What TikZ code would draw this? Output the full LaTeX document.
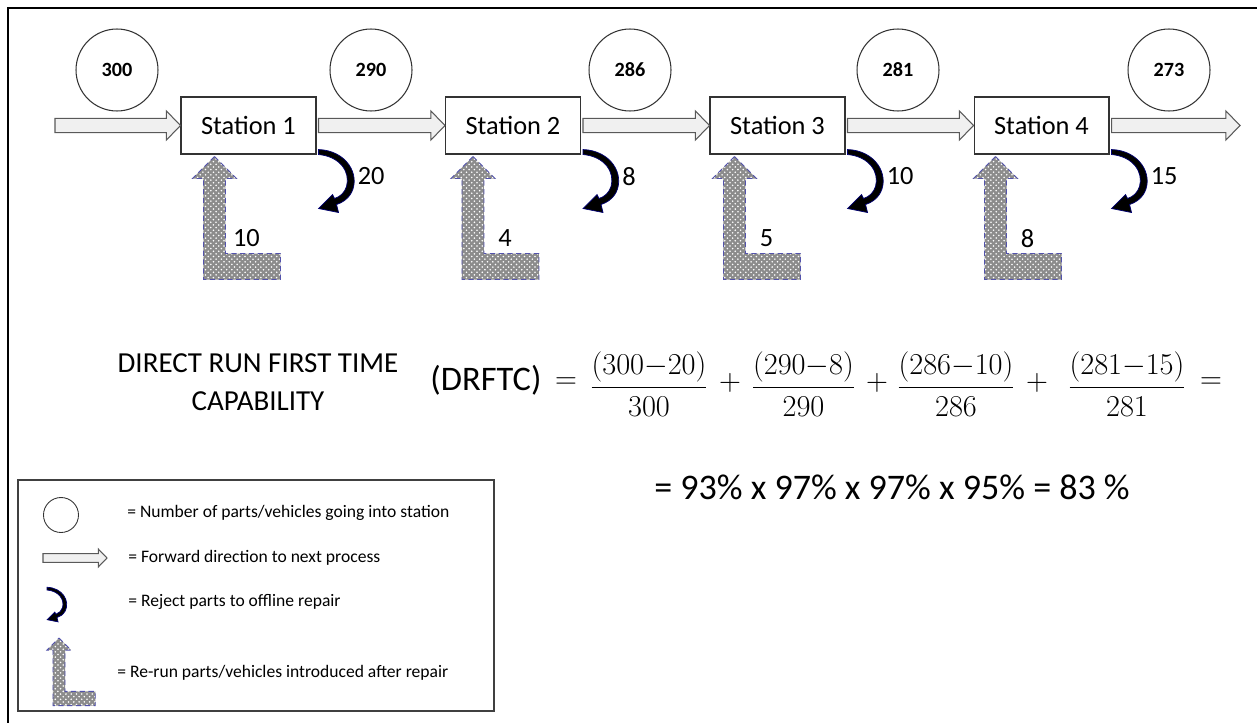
\documentclass[tikz,border=0pt]{standalone}
\usepackage{fontspec}
\setmainfont{Carlito}
\usetikzlibrary{calc}
\usetikzlibrary{patterns}

\tikzset{
	station/.style={draw=black!80, line width=.6pt, minimum width=2.7cm, minimum height=1.14cm, inner sep=0pt, font=\fontsize{15}{18}\selectfont},
	countcirc/.style={draw=black!80, line width=.6pt, circle, minimum size=1.64cm, inner sep=0pt, font=\fontsize{11.5}{14}\selectfont\bfseries},
	fwdarr/.style={draw=black!65, fill=black!6, line width=.6pt},
	rejarr/.style={fill=black, draw=blue!45!black, line width=.4pt},
	rerunarr/.style={preaction={fill=black!45}, pattern=crosshatch dots, pattern color=white, draw=blue!35!gray, densely dashed, line width=.5pt},
	qty/.style={font=\fontsize{15}{18}\selectfont, inner sep=0pt},
	legtxt/.style={font=\fontsize{10}{12}\selectfont, anchor=west, inner sep=0pt},
	reject/.pic={
		\path[rejarr] (2,-5) .. controls (30,-4) and (44,20) .. (35,38) .. controls (31,45) and (26,48) .. (20,50)
			-- (22,58) -- (2,54) -- (16,40) -- (18,44) .. controls (24,42) and (28,38) .. (30,32)
			.. controls (34,18) and (24,2) .. (2,0) -- cycle;
	},
	rerun/.pic={
		\path[rerunarr] (0,0) -- (22,22) -- (11,22) -- (11,97) -- (66,97) -- (66,123) -- (-11,123) -- (-11,22) -- (-22,22) -- cycle;
	}
}

\newcommand\fwdarrow[3][1]{%
	\draw[fwdarr] let \p1=(#2), \p2=(#3) in
		(\x1,{\y1+#1*4pt}) -- ({\x2-#1*8pt},{\y1+#1*4pt}) -- ({\x2-#1*8pt},{\y1+#1*8.25pt}) -- (\x2,\y1)
		-- ({\x2-#1*8pt},{\y1-#1*8.25pt}) -- ({\x2-#1*8pt},{\y1-#1*4pt}) -- (\x1,{\y1-#1*4pt}) -- cycle;%
}

\begin{document}
\begin{tikzpicture}[x=0.02cm, y=-0.02cm]
	\useasboundingbox (0,0) rectangle (1257,723);
	\draw[line width=1.2pt] (8,723) -- (8,8) -- (1257,8);

	\foreach \n/\x in {1/248.5, 2/513, 3/777.5, 4/1041.5}
		\node[station] (st\n) at (\x,125.5) {Station \n};
	\foreach \n/\x/\v in {0/117/300, 1/371/290, 2/630/286, 3/898/281, 4/1169/273}
		\node[countcirc] (c\n) at (\x,70) {\v};

	\coordinate (in) at (55,125.5);
	\coordinate (out) at (1240,125.5);
	\fwdarrow{in}{st1.west}
	\fwdarrow{$(st1.east)+(2,0)$}{st2.west}
	\fwdarrow{$(st2.east)+(2,0)$}{st3.west}
	\fwdarrow{$(st3.east)+(2,0)$}{st4.west}
	\fwdarrow{$(st4.east)+(2,0)$}{out}

	\foreach \n/\q in {1/20, 2/8, 3/10, 4/15} {
		\pic at (st\n.south east) {reject};
		\node[qty, anchor=west] (rj\n) at ($(st\n.south east)+(41,22)$) {\q};
	}
	\foreach \n/\dx/\q in {1/34/10, 2/28/4, 3/25/5, 4/22/8} {
		\pic at ($(st\n.south west)+(\dx,2)$) {rerun};
		\node[qty] (rr\n) at ($(st\n.south west)+({\dx+32},84)$) {\q};
	}

	\node[font=\fontsize{16.5}{21.6}\selectfont, align=center] (drft) at (258,382) {DIRECT RUN FIRST TIME\\CAPABILITY};
	\node[font=\fontsize{19.6}{24}\selectfont] (drftc) at (486,380) {(DRFTC)};
	\node[font=\fontsize{17}{20}\selectfont] (eq1) at (566,383) {$=$};
	\foreach \n/\x/\a/\b in {1/649/300/20, 2/803.5/290/8, 3/956/286/10, 4/1127/281/15}
		\node[font=\fontsize{16}{19}\selectfont, inner sep=0pt] (f\n) at (\x,384) {$\displaystyle\frac{(\a{-}\b)}{\a}$};
	\foreach \n/\x in {1/730, 2/877, 3/1037}
		\node[font=\fontsize{17}{20}\selectfont] (pl\n) at (\x,383) {$+$};
	\node[font=\fontsize{17}{20}\selectfont] (eq2) at (1211,383) {$=$};
	\node[font=\fontsize{20.5}{24}\selectfont] (res) at (892,487) {= 93\% x 97\% x 97\% x 95\% = 83 \%};

	\draw[black!75, line width=.7pt] (18,480) rectangle (494,711);
	\node[draw=black!80, circle, minimum size=.7cm, inner sep=0pt, line width=.5pt] (lgc) at (61,515) {};
	\coordinate (lga) at (43,558);
	\coordinate (lgb) at (107,558);
	\fwdarrow[0.62]{lga}{lgb}
	\pic[scale=0.55] at (46,590) {reject};
	\pic[scale=0.55] at (59,638) {rerun};
	\node[legtxt] (lt1) at (127,513) {= Number of parts/vehicles going into station};
	\node[legtxt] (lt2) at (128,558) {= Forward direction to next process};
	\node[legtxt] (lt3) at (128,602) {= Reject parts to offline repair};
	\node[legtxt] (lt4) at (117,673) {= Re-run parts/vehicles introduced after repair};
\end{tikzpicture}
\end{document}
